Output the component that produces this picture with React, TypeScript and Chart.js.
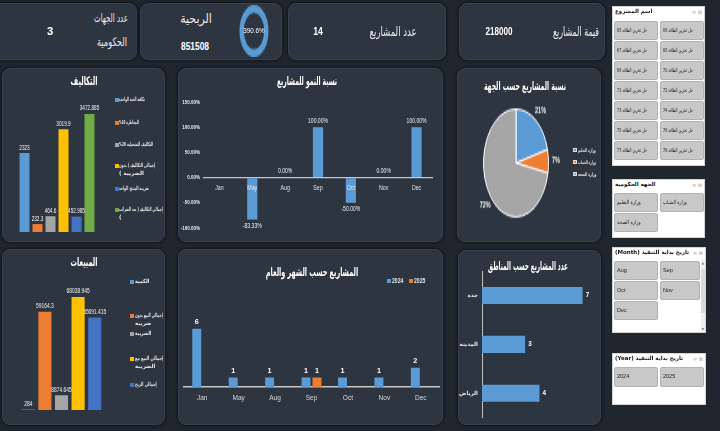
import React, { useEffect, useLayoutEffect, useRef, useState } from 'react';
import { Chart, registerables } from 'chart.js';

Chart.register(...registerables);

const AR = "'DejaVu Sans', sans-serif";
const NUM = "'Liberation Sans', Arial, sans-serif";

const BG = '#1f262e';
const PANEL = '#2d3541';
const BLUE = '#5b9bd5';
const ORANGE = '#ed7d31';
const GRAY = '#a5a5a5';
const GOLD = '#ffc000';
const DBLUE = '#4472c4';
const GREEN = '#70ad47';

// ---------- data ----------
const kpiProjectValue = '218000';
const kpiProjectCount = '14';
const kpiProfit = '851508';
const kpiProfitRatio = 390.6;
const kpiAgencies = '3';

const costLabels = [
  'تكلفة الحبة الواحدة',
  'المخاطرة 10%',
  'التكاليف التشغيلية 20%',
  'إجمالي التكاليف ( بدون الضريبة )',
  'ضريبة المنتج الواحد',
  'إجمالي التكاليف ( بعد الضرائب )',
];
const costValues = [2323, 232.3, 464.6, 3019.9, 452.985, 3472.885];
const costColors = [BLUE, ORANGE, GRAY, GOLD, DBLUE, GREEN];

const growthMonths = ['Jan', 'May', 'Aug', 'Sep', 'Oct', 'Nov', 'Dec'];
const growthValues = [null, -83.33, 0, 100, -50, 0, 100];
const growthTicks = [-100, -50, 0, 50, 100, 150];

const sectorLabels = ['وزارة التعليم', 'وزارة الشباب', 'وزارة الصحة'];
const sectorShares = [21, 7, 72];
const sectorColors = [BLUE, ORANGE, GRAY];

const salesLabels = ['الكمية', 'إجمالي البيع بدون ضريبة', 'الضريبة', 'إجمالي البيع مع الضريبة', 'إجمالي الربح'];
const salesValues = [284, 59164.3, 8874.645, 68038.945, 55691.415];
const salesColors = [BLUE, ORANGE, GRAY, GOLD, DBLUE];

const projectMonths = ['Jan', 'May', 'Aug', 'Sep', 'Oct', 'Nov', 'Dec'];
const projects2024 = [6, 1, 1, 1, 1, 1, 2];
const projects2025 = [null, null, null, 1, null, null, null];

const regionLabels = ['جدة', 'المدينة', 'الرياض'];
const regionCounts = [7, 3, 4];

const projectNames = [
  'حل تخزين الطاقة 65', 'حل تخزين الطاقة 66', 'حل تخزين الطاقة 67', 'حل تخزين الطاقة 68',
  'حل تخزين الطاقة 69', 'حل تخزين الطاقة 70', 'حل تخزين الطاقة 71', 'حل تخزين الطاقة 72',
  'حل تخزين الطاقة 73', 'حل تخزين الطاقة 74', 'حل تخزين الطاقة 75', 'حل تخزين الطاقة 76',
  'حل تخزين الطاقة 77', 'حل تخزين الطاقة 78',
];
const agencyNames = ['وزارة التعليم', 'وزارة الشباب', 'وزارة الصحة'];
const monthNames = ['Aug', 'Sep', 'Oct', 'Nov', 'Dec'];
const yearNames = ['2024', '2025'];

// legend line splits (text layout)
const costLegendLines = [
  ['تكلفة الحبة الواحدة'],
  ['المخاطرة 10%'],
  ['التكاليف التشغيلية 20%'],
  ['إجمالي التكاليف ( بدون', 'الضريبة )'],
  ['ضريبة المنتج الواحد'],
  ['إجمالي التكاليف ( بعد الضرائب', ')'],
];
const salesLegendLines = [
  ['الكمية'],
  ['إجمالي البيع بدون', 'ضريبة'],
  ['الضريبة'],
  ['إجمالي البيع مع', 'الضريبة'],
  ['إجمالي الربح'],
];

// ---------- plugins ----------
function fillNarrow(ctx: any, text: string, x: number, y: number, sx: number) {
  ctx.save();
  ctx.translate(x, y);
  ctx.scale(sx, 1);
  ctx.fillText(text, 0, 0);
  ctx.restore();
}

function makeValueLabels(o: { font: string; color: string; offset: number; sx: number; format: (v: number) => string; horizontal?: boolean }) {
  return {
    id: 'valueLabels',
    afterDatasetsDraw(chart: any) {
      const ctx = chart.ctx;
      ctx.save();
      ctx.font = o.font;
      ctx.fillStyle = o.color;
      chart.data.datasets.forEach((ds: any, di: number) => {
        const meta = chart.getDatasetMeta(di);
        meta.data.forEach((el: any, i: number) => {
          const v = ds.data[i];
          if (v === null || v === undefined) return;
          const t = o.format(v);
          if (o.horizontal) {
            ctx.textAlign = 'left';
            ctx.textBaseline = 'middle';
            fillNarrow(ctx, t, el.x + o.offset, el.y, o.sx);
          } else if (v >= 0) {
            ctx.textAlign = 'center';
            ctx.textBaseline = 'bottom';
            fillNarrow(ctx, t, el.x, el.y - o.offset, o.sx);
          } else {
            ctx.textAlign = 'center';
            ctx.textBaseline = 'top';
            fillNarrow(ctx, t, el.x, el.y + o.offset, o.sx);
          }
        });
      });
      ctx.restore();
    },
  };
}

function makeZeroAxisLabels(font: string, color: string, dy: number, sx: number) {
  return {
    id: 'zeroAxisLabels',
    afterDatasetsDraw(chart: any) {
      const ctx = chart.ctx;
      const xs = chart.scales.x;
      const ys = chart.scales.y;
      const y0 = ys.getPixelForValue(0);
      ctx.save();
      ctx.font = font;
      ctx.fillStyle = color;
      ctx.textAlign = 'center';
      ctx.textBaseline = 'middle';
      (chart.data.labels as string[]).forEach((l, i) => {
        fillNarrow(ctx, l, xs.getPixelForValue(i), y0 + dy, sx);
      });
      ctx.restore();
    },
  };
}

function makeYTickLabels(font: string, color: string, pad: number, sx: number, fmt: (v: number) => string) {
  return {
    id: 'yTickLabels',
    afterDraw(chart: any) {
      const ctx = chart.ctx;
      const ys = chart.scales.y;
      ctx.save();
      ctx.font = font;
      ctx.fillStyle = color;
      ctx.textAlign = 'right';
      ctx.textBaseline = 'middle';
      ys.ticks.forEach((t: any) => {
        fillNarrow(ctx, fmt(t.value), ys.right - pad, ys.getPixelForValue(t.value), sx);
      });
      ctx.restore();
    },
  };
}

function makePieLabels(font: string, color: string, gap: number) {
  return {
    id: 'pieLabels',
    afterDatasetsDraw(chart: any) {
      const ctx = chart.ctx;
      const ds = chart.data.datasets[0];
      const meta = chart.getDatasetMeta(0);
      ctx.save();
      ctx.font = font;
      ctx.fillStyle = color;
      ctx.textAlign = 'center';
      ctx.textBaseline = 'middle';
      meta.data.forEach((arc: any, i: number) => {
        const p = arc.getProps(['x', 'y', 'startAngle', 'endAngle', 'outerRadius'], true);
        const mid = (p.startAngle + p.endAngle) / 2;
        const r = p.outerRadius + gap;
        ctx.fillText(ds.data[i] + '%', p.x + Math.cos(mid) * r, p.y + Math.sin(mid) * r);
      });
      ctx.restore();
    },
  };
}

// ---------- components ----------
function ChartBox(props: { make: () => any; x: number; y: number; w: number; h: number; bufW?: number; bufH?: number }) {
  const ref = useRef<HTMLCanvasElement>(null);
  useEffect(() => {
    const c = new Chart(ref.current as HTMLCanvasElement, props.make());
    return () => c.destroy();
  }, []);
  if (props.bufW) {
    return (
      <canvas
        ref={ref}
        width={props.bufW}
        height={props.bufH}
        style={{ position: 'absolute', left: props.x, top: props.y, width: props.w, height: props.h }}
      />
    );
  }
  return (
    <div style={{ position: 'absolute', left: props.x, top: props.y, width: props.w, height: props.h }}>
      <canvas ref={ref} />
    </div>
  );
}

function Txt(props: {
  x: number; y: number; text: string; size: number; maxW?: number; anchor?: 'left' | 'center' | 'right';
  weight?: number | string; color?: string; family?: string; dir?: 'rtl' | 'ltr';
}) {
  const ref = useRef<HTMLSpanElement>(null);
  const [s, setS] = useState(1);
  const anchor = props.anchor || 'center';
  useLayoutEffect(() => {
    const el = ref.current;
    if (!el) return;
    const w = el.offsetWidth;
    setS(props.maxW && w > props.maxW ? props.maxW / w : 1);
  }, [props.text, props.maxW, props.size]);
  const tx = anchor === 'center' ? '-50%' : anchor === 'right' ? '-100%' : '0';
  return (
    <span
      ref={ref}
      dir={props.dir || 'rtl'}
      style={{
        position: 'absolute',
        left: props.x,
        top: props.y,
        transform: `translate(${tx}, -50%) scaleX(${s})`,
        transformOrigin: anchor === 'center' ? 'center' : anchor === 'right' ? 'right center' : 'left center',
        whiteSpace: 'nowrap',
        fontSize: props.size,
        fontWeight: props.weight ?? 400,
        color: props.color || '#ffffff',
        fontFamily: props.family || AR,
        lineHeight: 1,
      }}
    >
      {props.text}
    </span>
  );
}

function Panel(p: { x: number; y: number; w: number; h: number }) {
  return (
    <div
      style={{
        position: 'absolute', left: p.x, top: p.y, width: p.w, height: p.h, background: PANEL,
        borderRadius: 8, boxShadow: '0 0 3px 1px rgba(0,0,0,0.45)', border: '1px solid #364050', boxSizing: 'border-box',
      }}
    />
  );
}

function Box(p: { x: number; y: number; w: number; h: number; bg: string; border?: string; radius?: number }) {
  return (
    <div
      style={{
        position: 'absolute', left: p.x, top: p.y, width: p.w, height: p.h, background: p.bg,
        border: p.border, borderRadius: p.radius || 0, boxSizing: 'border-box',
      }}
    />
  );
}

function Slicer(p: {
  x: number; y: number; w: number; h: number; title: string; items: string[]; itemTop: number;
  colW: number; col2W: number; itemH: number; pitch: number; rtl: boolean; textW: number; scroll?: boolean;
}) {
  const out: any[] = [];
  out.push(<Box key="bg" x={p.x} y={p.y} w={p.w} h={p.h} bg="#ffffff" border="1px solid #d4d4d4" />);
  out.push(<Txt key="t" x={p.x + 3} y={p.y + 6} text={p.title} size={5.5} weight={700} color="#111111" anchor="left" maxW={p.w - 18} />);
  out.push(<Txt key="ic" x={p.x + p.w - 3} y={p.y + 6} text="≡ ⊠" size={5} color="#a8a8a8" anchor="right" dir="ltr" family={AR} />);
  p.items.forEach((it, i) => {
    const col = i % 2;
    const row = Math.floor(i / 2);
    const left = p.x + 2 + col * (p.colW + 2);
    const top = p.itemTop + row * p.pitch;
    const w = col === 0 ? p.colW : p.col2W;
    out.push(<Box key={'b' + i} x={left} y={top} w={w} h={p.itemH} bg="#c8c8c8" border="1px solid #b2b2b2" radius={2} />);
    out.push(
      <Txt key={'i' + i} x={left + 3} y={top + p.itemH / 2} text={it} size={5.5} color="#1a1a1a" anchor="left"
        maxW={p.textW} dir={p.rtl ? 'rtl' : 'ltr'} family={p.rtl ? AR : NUM} />
    );
  });
  if (p.scroll) {
    out.push(<Box key="sb" x={p.x + p.w - 5} y={p.y + 12} w={4} h={p.h - 14} bg="#f0f0f0" />);
    out.push(<Box key="st" x={p.x + p.w - 5} y={p.y + 22} w={4} h={44} bg="#dadada" />);
    out.push(<Txt key="su" x={p.x + p.w - 3} y={p.y + 16} text="▲" size={3} color="#777" dir="ltr" />);
    out.push(<Txt key="sd" x={p.x + p.w - 3} y={p.y + p.h - 4} text="▼" size={3} color="#777" dir="ltr" />);
  }
  return <>{out}</>;
}

// ---------- chart configs ----------
const noPlugins = { legend: { display: false }, tooltip: { enabled: false }, title: { display: false } };

function costsConfig() {
  return {
    type: 'bar',
    data: {
      labels: costLabels,
      datasets: [{ data: costValues, backgroundColor: costColors, categoryPercentage: 1, barPercentage: 0.77 }],
    },
    options: {
      animation: false, responsive: true, maintainAspectRatio: false,
      layout: { padding: { left: 16, right: 69, top: 28, bottom: 10 } },
      plugins: noPlugins,
      scales: { x: { display: false }, y: { display: false, min: 0, max: 4000 } },
    },
    plugins: [makeValueLabels({ font: `6.5px ${NUM}`, color: '#f2f2f2', offset: 2, sx: 0.72, format: (v) => String(v) })],
  };
}

function salesConfig() {
  return {
    type: 'bar',
    data: {
      labels: salesLabels,
      datasets: [{ data: salesValues, backgroundColor: salesColors, categoryPercentage: 1, barPercentage: 0.79 }],
    },
    options: {
      animation: false, responsive: true, maintainAspectRatio: false,
      layout: { padding: { left: 18, right: 62, top: 28, bottom: 15 } },
      plugins: noPlugins,
      scales: { x: { display: false }, y: { display: false, min: 0, max: 80000 } },
    },
    plugins: [makeValueLabels({ font: `6.5px ${NUM}`, color: '#f2f2f2', offset: 2, sx: 0.75, format: (v) => String(v) })],
  };
}

function growthConfig() {
  return {
    type: 'bar',
    data: {
      labels: growthMonths,
      datasets: [{ data: growthValues, backgroundColor: BLUE, categoryPercentage: 1, barPercentage: 0.31 }],
    },
    options: {
      animation: false, responsive: true, maintainAspectRatio: false,
      layout: { padding: { left: 0, right: 10, top: 34, bottom: 14 } },
      plugins: noPlugins,
      scales: {
        x: { display: false },
        y: {
          min: -100, max: 150,
          afterFit: (s: any) => { s.width = 25; },
          afterBuildTicks: (s: any) => { s.ticks = growthTicks.map((v) => ({ value: v })); },
          ticks: { display: false },
          grid: {
            drawTicks: false, lineWidth: 1.2,
            color: (c: any) => (c.tick && c.tick.value === 0 ? '#c8c8c8' : 'rgba(0,0,0,0)'),
          },
          border: { display: false },
        },
      },
    },
    plugins: [
      makeValueLabels({ font: `6.5px ${NUM}`, color: '#f2f2f2', offset: 3, sx: 0.78, format: (v) => v.toFixed(2) + '%' }),
      makeZeroAxisLabels(`6.5px ${NUM}`, '#e6e6e6', 11, 0.8),
      makeYTickLabels(`bold 6px ${NUM}`, '#ececec', 3, 0.75, (v) => v.toFixed(2) + '%'),
    ],
  };
}

function monthlyConfig() {
  return {
    type: 'bar',
    data: {
      labels: projectMonths,
      datasets: [
        { label: '2024', data: projects2024, backgroundColor: BLUE, categoryPercentage: 0.6, barPercentage: 0.82 },
        { label: '2025', data: projects2025, backgroundColor: ORANGE, categoryPercentage: 0.6, barPercentage: 0.82 },
      ],
    },
    options: {
      animation: false, responsive: true, maintainAspectRatio: false,
      layout: { padding: { left: 6, right: 4, top: 70, bottom: 16 } },
      plugins: noPlugins,
      scales: {
        x: {
          grid: { display: false, drawTicks: false },
          border: { display: true, color: '#c8c8c8', width: 1.5 },
          ticks: { color: '#d9d9d9', font: { family: NUM, size: 6.5 }, padding: 7, maxRotation: 0, autoSkip: false },
        },
        y: { display: false, min: 0, max: 7 },
      },
    },
    plugins: [makeValueLabels({ font: `bold 8px ${NUM}`, color: '#ffffff', offset: 3, sx: 0.9, format: (v) => String(v) })],
  };
}

function regionConfig() {
  return {
    type: 'bar',
    data: {
      labels: regionLabels,
      datasets: [{ data: regionCounts, backgroundColor: BLUE, categoryPercentage: 1, barPercentage: 0.35 }],
    },
    options: {
      indexAxis: 'y',
      animation: false, responsive: true, maintainAspectRatio: false,
      layout: { padding: { left: 0, right: 4, top: 21, bottom: 7 } },
      plugins: noPlugins,
      scales: {
        x: { display: false, min: 0, max: 8 },
        y: {
          afterFit: (s: any) => { s.width = 24; },
          grid: { display: false, drawTicks: false },
          border: { display: true, color: '#bfbfbf', width: 1 },
          ticks: { color: '#e6e6e6', font: { family: AR, size: 5.5, weight: 'bold' }, padding: 4 },
        },
      },
    },
    plugins: [makeValueLabels({ font: `bold 7px ${NUM}`, color: '#ffffff', offset: 3, sx: 0.9, format: (v) => String(v), horizontal: true })],
  };
}

function pieConfig() {
  return {
    type: 'pie',
    data: {
      labels: sectorLabels,
      datasets: [{ data: sectorShares, backgroundColor: sectorColors, borderColor: '#ffffff', borderWidth: 1 }],
    },
    options: {
      animation: false, responsive: false, maintainAspectRatio: false, devicePixelRatio: 1,
      layout: { padding: { top: 5, bottom: 5, left: 17, right: 17 } },
      plugins: noPlugins,
    },
    plugins: [makePieLabels(`bold 5.5px ${NUM}`, '#f2f2f2', 7.5)],
  };
}

function ringConfig() {
  return {
    type: 'doughnut',
    data: { datasets: [{ data: [kpiProfitRatio], backgroundColor: BLUE, borderWidth: 0 }] },
    options: {
      animation: false, responsive: false, maintainAspectRatio: false, devicePixelRatio: 1, cutout: '70%',
      layout: { padding: 0 },
      plugins: noPlugins,
    },
  };
}

// ---------- app ----------
export default function App() {
  useEffect(() => {
    document.body.style.margin = '0';
    document.body.style.background = BG;
  }, []);

  const costLegendY = [100, 123, 145, 166, 189, 210];
  const costLegendW = [26, 20, 34, 36, 30, 44];
  const salesLegendY = [282, 316, 334, 359, 385];
  const salesLegendW = [14, 28, 16, 28, 22];
  const pieLegendY = [150, 162, 174];

  return (
    <div style={{ position: 'fixed', left: 0, top: 0, width: 720, height: 431, background: BG, overflow: 'hidden', fontFamily: AR }}>
      {/* KPI row */}
      <Panel x={-8} y={3} w={145} h={57} />
      <Panel x={140} y={3} w={142} h={57} />
      <Panel x={288} y={3} w={158} h={57} />
      <Panel x={459} y={3} w={146} h={57} />

      <Txt x={111} y={18} text="عدد الجهات" size={12} maxW={34} color="#ececec" />
      <Txt x={112} y={42} text="الحكومية" size={12} maxW={30} color="#ececec" />
      <Txt x={50} y={31} text={kpiAgencies} size={11} weight={700} family={NUM} dir="ltr" />

      <Txt x={196} y={18} text="الربحية" size={13} maxW={32} color="#ececec" />
      <Txt x={195} y={46} text={kpiProfit} size={10.5} weight={700} family={NUM} dir="ltr" maxW={28} />
      <ChartBox make={ringConfig} x={239} y={5} w={30} h={52} bufW={30} bufH={29} />
      <Txt x={254} y={31} text={kpiProfitRatio.toFixed(1) + '%'} size={7.5} family={NUM} dir="ltr" maxW={21} />

      <Txt x={393} y={31} text="عدد المشاريع" size={13} maxW={47} color="#ececec" />
      <Txt x={318} y={31} text={kpiProjectCount} size={10.5} weight={700} family={NUM} dir="ltr" maxW={10} />

      <Txt x={576} y={31} text="قيمة المشاريع" size={13} maxW={46} color="#ececec" />
      <Txt x={499} y={31} text={kpiProjectValue} size={10.5} weight={700} family={NUM} dir="ltr" maxW={27} />

      {/* row 2 */}
      <Panel x={2} y={68} w={163} h={174} />
      <Panel x={178} y={68} w={265} h={174} />
      <Panel x={457} y={68} w={144} h={174} />

      <ChartBox make={costsConfig} x={2} y={68} w={163} h={174} />
      <Txt x={84} y={81} text="التكاليف" size={12} weight={700} maxW={27} />
      {costLegendLines.map((lines, i) => (
        <React.Fragment key={'cl' + i}>
          <Box x={115} y={costLegendY[i] - 2} w={4} h={4} bg={costColors[i]} />
          {lines.map((ln, j) => (
            <Txt key={j} x={119} y={costLegendY[i] + j * 7.5} text={ln} size={5.5} weight={700} color="#e6e6e6" anchor="left" maxW={costLegendW[i]} />
          ))}
        </React.Fragment>
      ))}

      <ChartBox make={growthConfig} x={178} y={68} w={265} h={174} />
      <Txt x={307} y={81} text="نسبة النمو للمشاريع" size={12} weight={700} maxW={60} />

      <Txt x={525} y={86} text="نسبة المشاريع حسب الجهة" size={12} weight={700} maxW={82} />
      <ChartBox make={pieConfig} x={466} y={100} w={100} h={126} bufW={100} bufH={76} />
      {sectorLabels.map((l, i) => (
        <React.Fragment key={'pl' + i}>
          <Box x={573} y={pieLegendY[i] - 2} w={4} h={4} bg={sectorColors[i]} border="0.5px solid #dddddd" />
          <Txt x={578} y={pieLegendY[i]} text={l} size={5} weight={700} color="#e0e0e0" anchor="left" maxW={18} />
        </React.Fragment>
      ))}

      {/* row 3 */}
      <Panel x={2} y={249} w={163} h={176} />
      <Panel x={178} y={249} w={265} h={176} />
      <Panel x={458} y={250} w={143} h={175} />

      <ChartBox make={salesConfig} x={2} y={249} w={163} h={176} />
      <Txt x={84} y={262} text="المبيعات" size={12} weight={700} maxW={27} />
      {salesLegendLines.map((lines, i) => (
        <React.Fragment key={'sl' + i}>
          <Box x={130} y={salesLegendY[i] - 2} w={4} h={4} bg={salesColors[i]} />
          {lines.map((ln, j) => (
            <Txt key={j} x={135} y={salesLegendY[i] + j * 8} text={ln} size={5.5} weight={700} color="#e6e6e6" anchor="left" maxW={salesLegendW[i]} />
          ))}
        </React.Fragment>
      ))}

      <ChartBox make={monthlyConfig} x={178} y={249} w={265} h={176} />
      <Txt x={312} y={272} text="المشاريع حسب الشهر والعام" size={12} weight={700} maxW={92} />
      <Box x={387} y={279} w={4} h={4} bg={BLUE} />
      <Txt x={392} y={281} text="2024" size={6.5} weight={700} family={NUM} dir="ltr" anchor="left" color="#e6e6e6" maxW={11} />
      <Box x={409} y={279} w={4} h={4} bg={ORANGE} />
      <Txt x={414} y={281} text="2025" size={6.5} weight={700} family={NUM} dir="ltr" anchor="left" color="#e6e6e6" maxW={11} />

      <ChartBox make={regionConfig} x={458} y={250} w={143} h={175} />
      <Txt x={528} y={266} text="عدد المشاريع حسب المناطق" size={12} weight={700} maxW={80} />

      {/* slicers */}
      <Slicer x={612} y={6} w={93} h={160} title="اسم المشروع" items={projectNames} itemTop={21}
        colW={44} col2W={44} itemH={19} pitch={20} rtl textW={30} />
      <Slicer x={612} y={179} w={93} h={59} title="الجهة الحكومية" items={agencyNames} itemTop={193}
        colW={44} col2W={44} itemH={19} pitch={20} rtl textW={24} />
      <Slicer x={612} y={247} w={94} h={86} title="تاريخ بداية التنفيذ (Month)" items={monthNames} itemTop={261}
        colW={44} col2W={40} itemH={19} pitch={20} rtl={false} textW={30} scroll />
      <Slicer x={612} y={353} w={94} h={52} title="تاريخ بداية التنفيذ (Year)" items={yearNames} itemTop={367}
        colW={44} col2W={44} itemH={20} pitch={21} rtl={false} textW={30} />
    </div>
  );
}
